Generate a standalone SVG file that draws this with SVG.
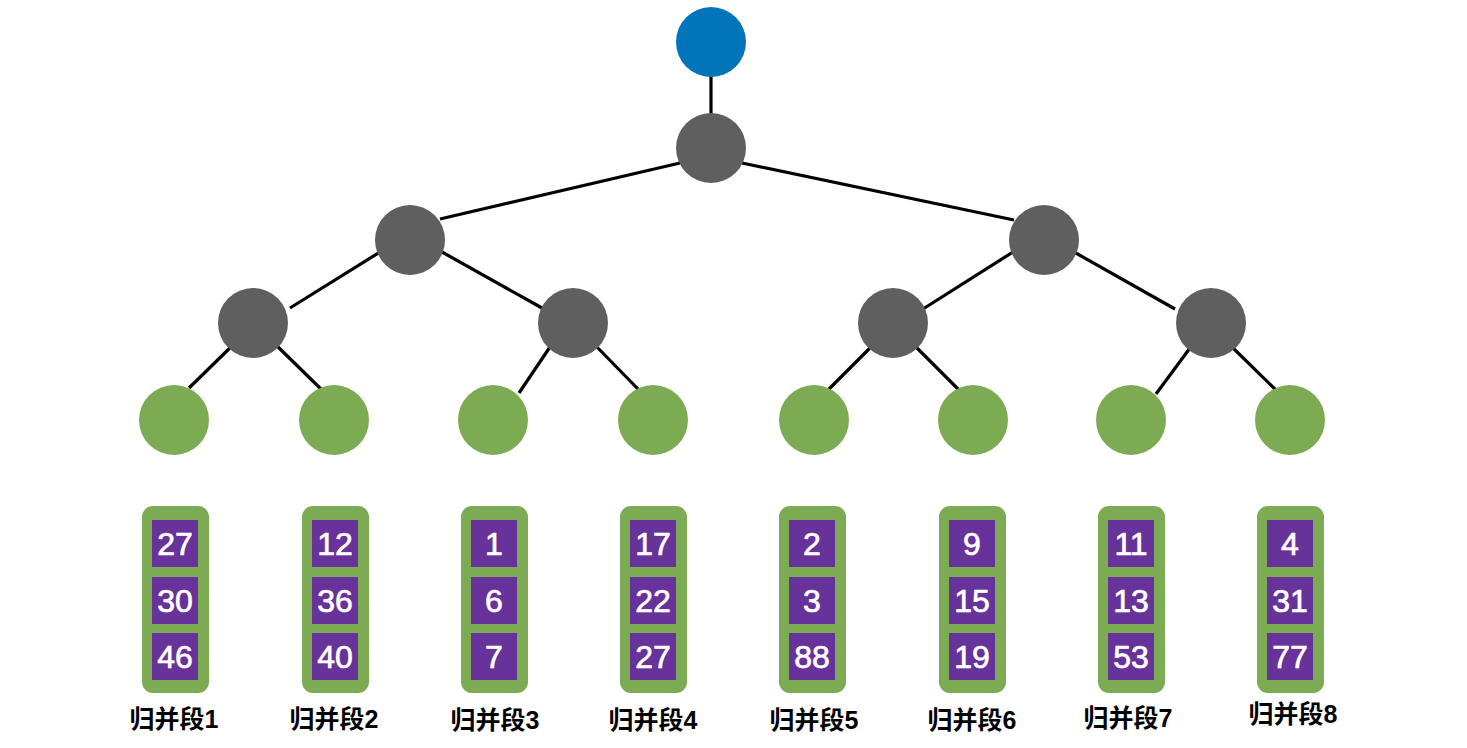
<svg xmlns="http://www.w3.org/2000/svg" width="1467" height="748" viewBox="0 0 1467 748">
<style>
.e{stroke:#000;stroke-width:3.2;fill:none;stroke-linecap:butt}
.root{fill:#0174BA}
.inner{fill:#5F5F5F}
.leaf{fill:#7DAB53}
.run{fill:#7DAB53}
.cell{fill:#67339A}
.num{fill:#fff;stroke:#fff;stroke-width:0.7;font-family:"Liberation Sans",Arial,sans-serif;font-size:32px;text-anchor:middle}
.lbl{fill:#000;font-family:"Liberation Sans","Noto Sans CJK SC",sans-serif;font-size:25px;font-weight:bold;text-anchor:middle}
</style>
<rect width="1467" height="748" fill="#fff"/>
<g id="connectors">
<line class="e" x1="711" y1="70" x2="711" y2="120"/>
<line class="e" x1="680" y1="163" x2="440" y2="219"/>
<line class="e" x1="742" y1="163" x2="1014" y2="220"/>
<line class="e" x1="380" y1="252" x2="290" y2="308"/>
<line class="e" x1="442" y1="252" x2="542" y2="308"/>
<line class="e" x1="1013" y1="252" x2="923" y2="309"/>
<line class="e" x1="1074" y1="252" x2="1175" y2="309"/>
<line class="e" x1="233" y1="345" x2="189" y2="388"/>
<line class="e" x1="275" y1="344" x2="322" y2="390"/>
<line class="e" x1="552" y1="344" x2="519" y2="393"/>
<line class="e" x1="595" y1="345" x2="638" y2="389"/>
<line class="e" x1="870" y1="348" x2="828" y2="390"/>
<line class="e" x1="914" y1="345" x2="959" y2="390"/>
<line class="e" x1="1190" y1="348" x2="1156" y2="394"/>
<line class="e" x1="1233" y1="348" x2="1277" y2="391"/>
</g>
<g id="root"><circle class="root" cx="711" cy="42" r="35"/></g>
<g id="n1"><circle class="inner" cx="711" cy="148" r="35"/></g>
<g id="n2"><circle class="inner" cx="410" cy="240" r="35"/></g>
<g id="n3"><circle class="inner" cx="1044" cy="240" r="35"/></g>
<g id="n4"><circle class="inner" cx="253" cy="323" r="35"/></g>
<g id="n5"><circle class="inner" cx="573" cy="323" r="35"/></g>
<g id="n6"><circle class="inner" cx="893" cy="323" r="35"/></g>
<g id="n7"><circle class="inner" cx="1211" cy="323" r="35"/></g>
<g id="leaf1"><circle class="leaf" cx="174" cy="420" r="35"/></g>
<g id="leaf2"><circle class="leaf" cx="334" cy="420" r="35"/></g>
<g id="leaf3"><circle class="leaf" cx="493" cy="420" r="35"/></g>
<g id="leaf4"><circle class="leaf" cx="653" cy="420" r="35"/></g>
<g id="leaf5"><circle class="leaf" cx="814" cy="420" r="35"/></g>
<g id="leaf6"><circle class="leaf" cx="973" cy="420" r="35"/></g>
<g id="leaf7"><circle class="leaf" cx="1131" cy="420" r="35"/></g>
<g id="leaf8"><circle class="leaf" cx="1290" cy="420" r="35"/></g>

<g id="run1">
<rect class="run" x="142" y="506" width="67" height="187" rx="11"/>
<rect class="cell" x="152" y="520" width="46" height="47"/><text class="num" x="175" y="555">27</text>
<rect class="cell" x="152" y="577" width="46" height="47"/><text class="num" x="175" y="612">30</text>
<rect class="cell" x="152" y="633" width="46" height="47"/><text class="num" x="175" y="668">46</text>
<text class="lbl" x="174" y="728">归并段1</text>
</g>
<g id="run2">
<rect class="run" x="302" y="506" width="67" height="187" rx="11"/>
<rect class="cell" x="312" y="520" width="46" height="47"/><text class="num" x="335" y="555">12</text>
<rect class="cell" x="312" y="577" width="46" height="47"/><text class="num" x="335" y="612">36</text>
<rect class="cell" x="312" y="633" width="46" height="47"/><text class="num" x="335" y="668">40</text>
<text class="lbl" x="334" y="728">归并段2</text>
</g>
<g id="run3">
<rect class="run" x="461" y="506" width="67" height="187" rx="11"/>
<rect class="cell" x="471" y="520" width="46" height="47"/><text class="num" x="494" y="555">1</text>
<rect class="cell" x="471" y="577" width="46" height="47"/><text class="num" x="494" y="612">6</text>
<rect class="cell" x="471" y="633" width="46" height="47"/><text class="num" x="494" y="668">7</text>
<text class="lbl" x="495" y="729">归并段3</text>
</g>
<g id="run4">
<rect class="run" x="620" y="506" width="67" height="187" rx="11"/>
<rect class="cell" x="630" y="520" width="46" height="47"/><text class="num" x="653" y="555">17</text>
<rect class="cell" x="630" y="577" width="46" height="47"/><text class="num" x="653" y="612">22</text>
<rect class="cell" x="630" y="633" width="46" height="47"/><text class="num" x="653" y="668">27</text>
<text class="lbl" x="653" y="729">归并段4</text>
</g>
<g id="run5">
<rect class="run" x="779" y="506" width="67" height="187" rx="11"/>
<rect class="cell" x="789" y="520" width="46" height="47"/><text class="num" x="812" y="555">2</text>
<rect class="cell" x="789" y="577" width="46" height="47"/><text class="num" x="812" y="612">3</text>
<rect class="cell" x="789" y="633" width="46" height="47"/><text class="num" x="812" y="668">88</text>
<text class="lbl" x="814" y="729">归并段5</text>
</g>
<g id="run6">
<rect class="run" x="939" y="506" width="67" height="187" rx="11"/>
<rect class="cell" x="949" y="520" width="46" height="47"/><text class="num" x="972" y="555">9</text>
<rect class="cell" x="949" y="577" width="46" height="47"/><text class="num" x="972" y="612">15</text>
<rect class="cell" x="949" y="633" width="46" height="47"/><text class="num" x="972" y="668">19</text>
<text class="lbl" x="972" y="729">归并段6</text>
</g>
<g id="run7">
<rect class="run" x="1098" y="506" width="67" height="187" rx="11"/>
<rect class="cell" x="1108" y="520" width="46" height="47"/><text class="num" x="1131" y="555">11</text>
<rect class="cell" x="1108" y="577" width="46" height="47"/><text class="num" x="1131" y="612">13</text>
<rect class="cell" x="1108" y="633" width="46" height="47"/><text class="num" x="1131" y="668">53</text>
<text class="lbl" x="1128" y="727">归并段7</text>
</g>
<g id="run8">
<rect class="run" x="1257" y="506" width="67" height="187" rx="11"/>
<rect class="cell" x="1267" y="520" width="46" height="47"/><text class="num" x="1290" y="555">4</text>
<rect class="cell" x="1267" y="577" width="46" height="47"/><text class="num" x="1290" y="612">31</text>
<rect class="cell" x="1267" y="633" width="46" height="47"/><text class="num" x="1290" y="668">77</text>
<text class="lbl" x="1293" y="723">归并段8</text>
</g>
</svg>
